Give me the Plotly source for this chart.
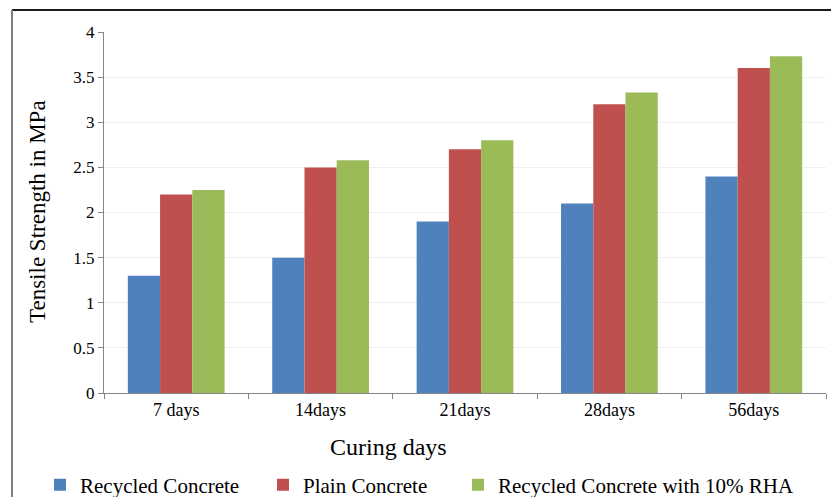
import plotly.graph_objects as go

categories = ["7 days", "14days", "21days", "28days", "56days"]
recycled = [1.3, 1.5, 1.9, 2.1, 2.4]
plain = [2.2, 2.5, 2.7, 3.2, 3.6]
rha = [2.25, 2.58, 2.8, 3.33, 3.73]
series_names = ["Recycled Concrete", "Plain Concrete", "Recycled Concrete with 10% RHA"]
colors = ["#4F81BD", "#C0504D", "#9BBB59"]
y_ticks = [0, 0.5, 1, 1.5, 2, 2.5, 3, 3.5, 4]
y_tick_text = ["0", "0.5", "1", "1.5", "2", "2.5", "3", "3.5", "4"]

font_family = "Liberation Serif, Times New Roman, serif"

W, H = 831, 497
L, R, T, B = 104, 5, 32, 104
pw, ph = W - L - R, H - T - B

def px(x):
    return (x - L) / pw

def py(y):
    return (H - B - y) / ph

legend_ids = ["legend", "legend2", "legend3"]
legend_x = [40, 263, 458]

fig = go.Figure()
for name, vals, c, lid in zip(series_names, [recycled, plain, rha], colors, legend_ids):
    fig.add_trace(go.Bar(x=categories, y=vals, name=name, legend=lid,
                         marker=dict(color=c, line=dict(width=0))))

legend_common = dict(orientation="h", xanchor="left", y=py(485), yanchor="middle",
                     font=dict(size=21, family=font_family), itemwidth=30,
                     bgcolor="rgba(0,0,0,0)")

fig.update_layout(
    width=W, height=H,
    margin=dict(l=L, r=R, t=T, b=B, autoexpand=False),
    paper_bgcolor="white", plot_bgcolor="white",
    barmode="group", bargap=0.33, bargroupgap=0,
    font=dict(family=font_family, color="#000000"),
    showlegend=True,
    legend=dict(x=px(legend_x[0]), **legend_common),
    legend2=dict(x=px(legend_x[1]), **legend_common),
    legend3=dict(x=px(legend_x[2]), **legend_common),
    xaxis=dict(showline=True, linecolor="#868686", linewidth=1, ticks="outside", ticklen=5,
               tickcolor="#868686", tickson="boundaries", tickfont=dict(size=18, family=font_family),
               showgrid=False, zeroline=False, automargin=False),
    yaxis=dict(range=[0, 4], tickvals=y_ticks, ticktext=y_tick_text, showline=True,
               linecolor="#868686", linewidth=1, ticks="outside", ticklen=5, tickcolor="#868686",
               showgrid=True, gridcolor="#EFEFEF", gridwidth=1, zeroline=False, automargin=False,
               tickfont=dict(size=17, family=font_family)),
    shapes=[
        dict(type="line", xref="paper", yref="paper", x0=px(12), x1=px(831), y0=py(10), y1=py(10),
             line=dict(color="#1a1a1a", width=2)),
        dict(type="line", xref="paper", yref="paper", x0=px(12), x1=px(12), y0=py(10), y1=py(497),
             line=dict(color="#808080", width=2)),
    ],
    annotations=[
        dict(text="Curing days", xref="paper", yref="paper", x=px(388), y=py(447),
             xanchor="center", yanchor="middle", showarrow=False, font=dict(size=24, family=font_family)),
        dict(text="Tensile Strength in MPa", xref="paper", yref="paper", x=px(37), y=py(212),
             xanchor="center", yanchor="middle", textangle=-90, showarrow=False,
             font=dict(size=23, family=font_family)),
    ],
)

fig.write_html("out.html", config={"displayModeBar": False},
               post_script="document.body.style.margin='0';document.body.style.overflow='hidden';")
